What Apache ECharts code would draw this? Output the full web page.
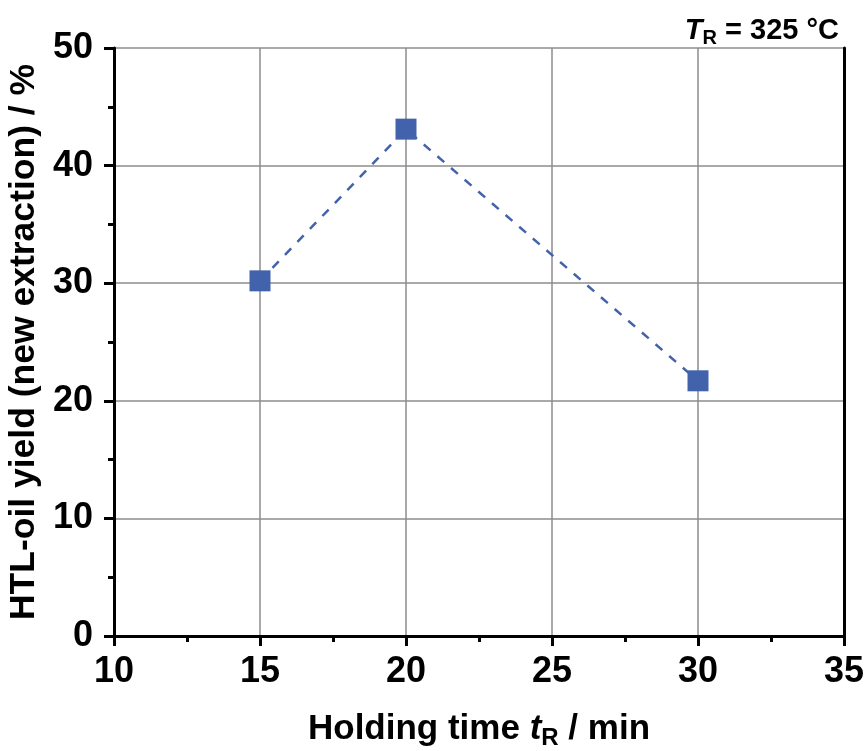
<!DOCTYPE html>
<html><head><meta charset="utf-8">
<script src="https://cdn.jsdelivr.net/npm/echarts@6/dist/echarts.min.js"></script>
<style>html,body{margin:0;padding:0;background:#fff}#c{width:865px;height:751px}</style>
</head><body><div id="c"></div>
<script>
const holdingTime = [15, 20, 30];
const oilYield = [30.2, 43.1, 21.7];
const xTicks = [10, 15, 20, 25, 30, 35];
const yTicks = [0, 10, 20, 30, 40, 50];

const font = '"Liberation Sans", Arial, sans-serif';
const chart = echarts.init(document.getElementById('c'));
const axisLineStyle = {color: '#000', width: 3};
chart.setOption({
  backgroundColor: '#fff',
  animation: false,
  title: {
    text: '{i|T}{sub|R}{n| = 325 °C}',
    right: 21, top: 8,
    textStyle: {
      rich: {
        i: {fontFamily: font, fontWeight: 'bold', fontStyle: 'italic', fontSize: 29, color: '#000'},
        sub: {fontFamily: font, fontWeight: 'bold', fontSize: 20, color: '#000', padding: [15, 0, 0, 0]},
        n: {fontFamily: font, fontWeight: 'bold', fontSize: 29, color: '#000'}
      }
    }
  },
  grid: {left: 114, right: 21, top: 48, bottom: 115, containLabel: false, outerBoundsMode: 'none'},
  xAxis: [{
    type: 'value', min: xTicks[0], max: xTicks[xTicks.length - 1], interval: 5,
    name: 'Holding time {i|t}{sub|R}{n| / min}', nameLocation: 'middle', nameGap: 73,
    nameTextStyle: {
      fontFamily: font, fontWeight: 'bold', fontSize: 35, color: '#000',
      rich: {
        i: {fontFamily: font, fontWeight: 'bold', fontStyle: 'italic', fontSize: 35, color: '#000'},
        sub: {fontFamily: font, fontWeight: 'bold', fontSize: 24, color: '#000', padding: [17, 0, 0, 0]},
        n: {fontFamily: font, fontWeight: 'bold', fontSize: 35, color: '#000'}
      }
    },
    axisLine: {lineStyle: axisLineStyle},
    axisTick: {show: true, length: 10, lineStyle: {color: '#000', width: 3}},
    minorTick: {show: true, splitNumber: 2, length: 6, lineStyle: {color: '#000', width: 3}},
    axisLabel: {fontFamily: font, fontWeight: 'bold', fontSize: 36, color: '#000', margin: 18},
    splitLine: {show: true, lineStyle: {color: '#8c8c8c', width: 1.5}}
  }, {
    type: 'value', position: 'top', min: xTicks[0], max: xTicks[xTicks.length - 1], interval: 5,
    axisLine: {show: true, lineStyle: axisLineStyle}, axisTick: {show: false},
    axisLabel: {show: false}, splitLine: {show: false}
  }],
  yAxis: [{
    type: 'value', min: yTicks[0], max: yTicks[yTicks.length - 1], interval: 10,
    name: 'HTL-oil yield (new extraction) / %', nameLocation: 'middle', nameGap: 66,
    nameTextStyle: {fontFamily: font, fontWeight: 'bold', fontSize: 35.5, color: '#000'},
    axisLine: {show: true, lineStyle: axisLineStyle},
    axisTick: {show: true, length: 10, lineStyle: {color: '#000', width: 3}},
    minorTick: {show: true, splitNumber: 2, length: 6, lineStyle: {color: '#000', width: 3}},
    axisLabel: {fontFamily: font, fontWeight: 'bold', fontSize: 36, color: '#000', margin: 21},
    splitLine: {show: true, lineStyle: {color: '#8c8c8c', width: 1.5}}
  }, {
    type: 'value', position: 'right', min: yTicks[0], max: yTicks[yTicks.length - 1], interval: 10,
    axisLine: {show: true, lineStyle: axisLineStyle}, axisTick: {show: false},
    axisLabel: {show: false}, splitLine: {show: false}
  }],
  series: [{
    type: 'line',
    data: holdingTime.map((t, i) => [t, oilYield[i]]),
    symbol: 'rect', symbolSize: 21,
    itemStyle: {color: '#4262ab'},
    lineStyle: {color: '#4262ab', width: 2.5, type: [9, 9]},
    z: 5
  }]
});
</script></body></html>
